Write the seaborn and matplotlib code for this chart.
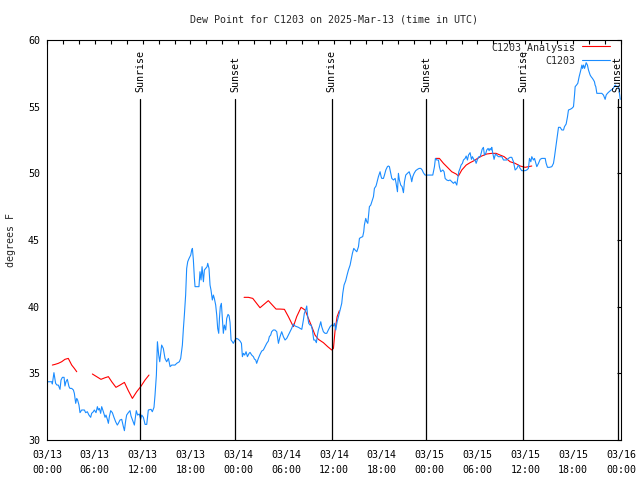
import pandas as pd
import matplotlib
matplotlib.use("Agg")
import matplotlib.pyplot as plt
import matplotlib.dates as mdates
import matplotlib.transforms as mtransforms
from matplotlib.lines import Line2D
import seaborn as sns

# ----------------------------
# DATA (hours after 2025-03-13 00:00 UTC, dew point in F)
# ----------------------------
START = "2025-03-13 00:00"

blue_hours = [
    0.08, 0.59, 0.67, 0.87, 1.08, 1.25, 1.42, 1.63, 1.76, 1.93,
    2.14, 2.25, 2.38, 2.55, 2.67, 2.76, 2.88, 3.1, 3.31, 3.43,
    3.6, 3.73, 3.84, 4.01, 4.14, 4.35, 4.69, 4.85, 5.06, 5.26,
    5.48, 5.6, 5.81, 5.94, 6.15, 6.32, 6.44, 6.57, 6.73, 6.86,
    7.07, 7.28, 7.4, 7.57, 7.7, 7.82, 7.99, 8.2, 8.4, 8.61,
    8.82, 8.95, 9.16, 9.37, 9.58, 9.71, 9.87, 9.99, 10.2, 10.41,
    10.54, 10.75, 10.96, 11.09, 11.2, 11.37, 11.58, 11.75, 11.88, 12.09,
    12.3, 12.51, 12.71, 13.05, 13.21, 13.42, 13.55, 13.72, 13.85, 14.01,
    14.14,
    14.38, 14.59, 14.8, 15.01, 15.23, 15.44, 15.65, 16.06, 16.27, 16.6,
    16.77, 16.98, 17.11, 17.23, 17.39, 17.52, 17.65, 17.82, 18.03, 18.15,
    18.24, 18.36, 18.49, 18.57, 18.86, 19.06, 19.19, 19.32, 19.45, 19.62,
    19.74, 19.91, 20.08, 20.16, 20.32, 20.45, 20.57, 20.74, 20.87, 20.99,
    21.16, 21.29, 21.41, 21.54, 21.63, 21.74, 21.87, 22.0, 22.12, 22.25,
    22.42, 22.54, 22.71, 22.84, 22.96, 23.09, 23.25, 23.37, 23.58, 23.79,
    24.01, 24.22, 24.39, 24.51, 24.64, 24.8, 24.97, 25.14, 25.35, 25.47,
    25.68, 25.89, 26.02, 26.18, 26.3, 26.51, 26.72, 26.93, 27.14, 27.35,
    27.56, 27.76, 27.89, 28.06, 28.18, 28.39, 28.6,
    28.82, 29.03, 29.23, 29.44, 29.65, 29.86, 30.07, 30.28, 30.49, 30.69,
    30.9, 31.11, 31.32, 31.54, 31.75, 31.96, 32.16, 32.28, 32.45, 32.58,
    32.7, 32.83, 33.0, 33.13, 33.29, 33.46, 33.62, 33.79, 33.92, 34.04,
    34.17, 34.34, 34.46, 34.67, 34.88, 35.09, 35.29, 35.51, 35.72, 35.93,
    36.05, 36.22, 36.39, 36.56, 36.76, 36.97, 37.1, 37.26, 37.47, 37.64,
    37.81, 38.02, 38.14, 38.31, 38.48, 38.65, 38.86, 39.07, 39.19, 39.4,
    39.6, 39.73, 39.81, 39.98, 40.11, 40.24, 40.32, 40.44, 40.61, 40.74,
    40.95, 41.07, 41.27, 41.36, 41.57, 41.78, 41.91, 41.99, 42.2, 42.33,
    42.5, 42.7, 42.82, 42.95,
    43.25, 43.46, 43.67, 43.79, 43.96, 44.08, 44.2, 44.37, 44.54, 44.71,
    44.84, 45.0, 45.21, 45.43, 45.63, 45.75, 45.88, 46.05, 46.25, 46.47,
    46.68, 46.89, 47.06, 47.21, 47.42, 48.39, 48.6, 48.72, 48.89, 49.1,
    49.22, 49.39, 49.65, 49.81, 49.94, 50.14, 50.35, 50.56, 50.77, 50.98,
    51.19, 51.4, 51.53, 51.65, 51.81, 51.94, 52.11, 52.24, 52.45, 52.58,
    52.74, 52.87, 53.07, 53.24, 53.36, 53.57, 53.7, 53.83, 54.0, 54.17,
    54.33, 54.46, 54.58, 54.74, 54.87, 55.04, 55.16, 55.33, 55.46, 55.58,
    55.71, 55.79, 55.92, 56.08, 56.25, 56.41, 56.62, 56.84, 57.05, 57.26,
    57.47,
    57.67, 57.88, 58.09, 58.3, 58.51, 58.72, 58.93, 59.14, 59.35, 59.55,
    59.76, 59.97, 60.18, 60.39, 60.52, 60.69, 60.81, 61.02, 61.15, 61.32,
    61.44, 61.65, 61.86, 62.07, 62.28, 62.49, 62.61, 62.78, 63.03, 63.32,
    63.53, 63.66, 63.83, 63.95, 64.16, 64.37, 64.58, 64.79, 64.91, 65.12,
    65.29, 65.41, 65.62, 65.83, 66.04, 66.17, 66.25, 66.42, 66.58, 66.75,
    66.96, 67.09, 67.17, 67.3, 67.42, 67.5, 67.63, 67.79, 67.92, 68.13,
    68.25, 68.42, 68.55, 68.67, 68.75, 68.84, 68.97, 69.26, 69.59, 69.8,
    70.01, 70.14, 70.3, 70.51, 70.76, 70.93, 71.1, 71.27, 71.48, 71.69,
    71.81, 71.9,
]
blue_dewpt = [
    34.37, 34.37, 34.2, 35.05, 34.25, 34.12, 34.12, 33.8, 34.5, 34.7,
    34.7, 34.05, 34.37, 34.55, 34.25, 34.0, 33.87, 33.87, 33.75, 33.5,
    32.75, 33.12, 33.0, 32.62, 32.05, 32.25, 32.25, 32.05, 32.12, 31.87,
    31.7, 32.0, 32.12, 32.25, 32.05, 32.5, 32.25, 32.37, 32.0, 32.5,
    32.12, 31.7, 31.87, 31.55, 31.25, 31.75, 32.2, 32.05, 31.7, 31.37,
    31.12, 31.25, 31.5, 31.55, 31.0, 30.7, 31.45, 31.87, 32.05, 32.2,
    31.8, 31.45, 31.12, 31.7, 32.2, 31.87, 31.95, 31.55, 31.87, 31.7,
    31.17, 31.17, 32.25, 32.3, 32.12, 32.45, 33.37, 34.87, 37.37, 36.37,
    35.87,
    37.12, 36.87, 36.12, 35.87, 36.12, 35.5, 35.62, 35.62, 35.75, 35.87,
    36.12, 37.12, 38.37, 39.37, 40.87, 42.87, 43.37, 43.62, 43.87, 44.25,
    44.37, 43.5, 42.12, 41.5, 41.5, 41.5, 42.62, 42.0, 43.0, 41.87,
    42.75, 42.87, 43.0, 43.25, 42.87, 41.62, 41.25, 40.5, 40.87, 40.62,
    40.12, 39.37, 38.37, 38.0, 39.12, 40.0, 40.25, 39.12, 38.0, 38.62,
    38.25, 39.12, 39.42, 39.32, 38.82, 37.5, 37.37, 37.25, 37.5, 37.62,
    37.55, 37.42, 37.25, 36.25, 36.5, 36.37, 36.62, 36.25, 36.5, 36.57,
    36.37, 36.25, 36.07, 36.0, 35.75, 36.12, 36.42, 36.67, 36.75, 37.0,
    37.25, 37.42, 37.75, 37.87, 38.12, 38.25, 38.25,
    38.12, 37.25, 37.75, 38.12, 37.75, 37.5, 37.62, 37.87, 38.12, 38.37,
    38.7, 38.55, 38.5, 38.45, 38.37, 38.3, 39.0, 39.5, 39.75, 40.05,
    39.25, 38.75, 38.62, 38.62, 38.25, 37.5, 37.5, 37.3, 37.87, 38.25,
    38.5, 38.87, 38.5, 38.12, 38.0, 38.0, 38.25, 38.5, 38.62, 38.55,
    38.75, 38.25, 38.87, 39.25, 39.75, 40.25, 41.0, 41.62, 41.95, 42.37,
    42.75, 43.12, 43.5, 44.0, 44.37, 44.25, 44.12, 44.5, 45.12, 45.2,
    45.25, 45.62, 46.12, 46.62, 46.37, 46.25, 46.75, 47.5, 47.62, 47.87,
    48.25, 48.87, 49.05, 49.25, 49.75, 50.12, 49.75, 49.62, 49.62, 49.87,
    50.25, 50.5, 50.55, 50.5,
    49.62, 49.5, 49.62, 49.25, 48.62, 50.0, 49.5, 49.12, 49.0, 48.55,
    49.37, 49.87, 50.0, 50.12, 49.75, 49.37, 49.75, 50.0, 50.2, 50.3,
    50.37, 50.37, 50.25, 50.05, 49.87, 49.87, 50.5, 51.12, 51.0, 51.0,
    50.5, 50.12, 50.25, 50.12, 49.62, 49.5, 49.45, 49.5, 49.37, 49.25,
    49.37, 49.12, 49.62, 50.12, 50.37, 50.62, 50.75, 51.0, 51.12, 51.3,
    51.0, 51.37, 51.55, 51.05, 51.25, 51.0, 51.0, 50.75, 51.05, 51.25,
    51.25, 51.5, 51.8, 51.95, 51.37, 51.5, 51.75, 51.87, 51.7, 51.87,
    51.75, 51.95, 51.5, 51.05, 51.45, 51.37, 51.25, 51.25, 51.25, 51.0,
    51.0,
    51.0, 51.12, 51.2, 51.2, 50.87, 50.25, 50.37, 50.62, 50.37, 50.2,
    50.2, 50.2, 50.25, 50.37, 51.12, 50.87, 51.25, 51.0, 51.12, 50.75,
    50.5, 50.75, 51.05, 51.12, 51.12, 51.12, 50.75, 50.45, 50.45, 50.5,
    50.75, 51.25, 52.0, 52.5, 53.45, 53.45, 53.25, 53.25, 53.5, 53.7,
    54.25, 54.75, 54.8, 54.87, 55.0, 55.87, 56.5, 56.62, 56.75, 57.25,
    57.75, 58.12, 57.87, 58.12, 57.87, 58.0, 58.3, 58.12, 57.75, 57.37,
    57.25, 57.12, 57.0, 56.87, 56.62, 56.5, 56.0, 56.0, 56.0, 55.87,
    55.55, 55.87, 56.0, 56.12, 56.25, 56.3, 56.45, 56.62, 56.5, 56.55,
    56.0, 55.55,
]

# analysis comes in separate pieces (gaps between them)
red_hours = [
    [0.67, 1.0, 1.42, 1.84, 2.25, 2.67, 3.1, 3.43, 3.73],
    [5.69, 6.23, 6.77, 7.28, 7.7, 8.12, 8.65, 9.16, 9.71, 10.2, 10.71,
     11.25, 11.75, 12.3, 12.79],
    [24.72, 25.26, 25.81, 26.72, 27.76, 28.73, 29.23, 29.78, 30.28, 30.9,
     31.32, 31.87, 32.37, 32.79, 33.21, 33.62, 34.04, 34.67, 35.21, 35.72,
     35.93, 36.14, 36.39, 36.67],
    [48.77, 49.22, 49.73, 50.23, 50.77, 51.32, 51.61, 52.03, 52.58, 53.07,
     53.57, 54.0, 54.53, 55.16, 55.79, 56.33, 56.84, 57.34, 58.09, 58.72,
     59.35, 59.97, 60.81],
]
red_dewpt = [
    [35.62, 35.67, 35.75, 35.87, 36.05, 36.12, 35.62, 35.37, 35.12],
    [34.95, 34.75, 34.55, 34.67, 34.75, 34.37, 33.95, 34.12, 34.32, 33.7,
     33.12, 33.62, 34.0, 34.5, 34.87],
    [40.7, 40.7, 40.62, 39.92, 40.45, 39.82, 39.82, 39.8, 39.25, 38.5,
     39.25, 39.95, 39.75, 39.12, 38.5, 37.87, 37.55, 37.3, 37.0, 36.75,
     36.87, 38.25, 39.25, 39.7],
    [51.12, 51.12, 50.75, 50.45, 50.12, 49.95, 49.8, 50.25, 50.62, 50.8,
     50.95, 51.12, 51.3, 51.45, 51.5, 51.5, 51.37, 51.25, 50.87, 50.75,
     50.55, 50.45, 50.55],
]

sun_times = ["2025-03-13 11:43", "2025-03-13 23:35", "2025-03-14 11:43",
             "2025-03-14 23:35", "2025-03-15 11:45", "2025-03-15 23:34"]
sun_labels = ["Sunrise", "Sunset", "Sunrise", "Sunset", "Sunrise", "Sunset"]

BLUE = "#1a8cff"
RED = "#ff0000"
LW = 0.8

# ----------------------------
# build frames
# ----------------------------
t0 = pd.Timestamp(START)
obs = pd.DataFrame({"time": t0 + pd.to_timedelta(blue_hours, unit="h"),
                    "dewpt": blue_dewpt})

rows = []
for i, (hh, vv) in enumerate(zip(red_hours, red_dewpt)):
    for h, v in zip(hh, vv):
        rows.append({"time": t0 + pd.Timedelta(hours=h), "dewpt": v, "seg": i})
ana = pd.DataFrame(rows)

# ----------------------------
# plot
# ----------------------------
sns.set_theme(style="white")
plt.rcParams["font.family"] = ["DejaVu Sans Mono"]
plt.rcParams["font.size"] = 7.2

fig = plt.figure(figsize=(6.4, 4.8), dpi=100)
ax = fig.add_axes([47 / 640, 40 / 480, 574 / 640, 400 / 480])

sns.lineplot(data=ana, x="time", y="dewpt", units="seg", estimator=None,
             color=RED, lw=LW, ax=ax, legend=False)
sns.lineplot(data=obs, x="time", y="dewpt", estimator=None,
             color=BLUE, lw=LW, ax=ax, legend=False)

trans = mtransforms.blended_transform_factory(ax.transData, ax.transAxes)
for ts, lab in zip(sun_times, sun_labels):
    x = mdates.date2num(pd.Timestamp(ts))
    ax.axvline(x, ymin=0, ymax=0.852, color="black", lw=0.9)
    ax.text(x, 0.87, lab, transform=trans, rotation=90, ha="center",
            va="bottom", fontsize=7.2, color="black")

ax.set_xlim(pd.Timestamp("2025-03-13"), pd.Timestamp("2025-03-16"))
ax.set_ylim(30, 60)
ax.set_yticks(range(30, 61, 5))
ax.xaxis.set_major_locator(mdates.HourLocator(byhour=[0, 6, 12, 18]))
ax.xaxis.set_minor_locator(mdates.HourLocator(interval=2))
ax.xaxis.set_major_formatter(mdates.DateFormatter("%m/%d\n%H:%M"))

ax.tick_params(axis="both", which="both", direction="in", top=True,
               right=True, length=3.2, width=0.8, colors="black",
               labelsize=7.2)
ax.tick_params(axis="x", which="major", pad=7)
ax.tick_params(axis="y", which="major", pad=5)
for lbl in ax.get_xticklabels():
    lbl.set_linespacing(1.6)

for sp in ax.spines.values():
    sp.set_color("black")
    sp.set_linewidth(0.8)

ax.set_xlabel("")
ax.set_ylabel("degrees F", fontsize=7.2, labelpad=9)
fig.text(334 / 640, 1 - 20 / 480,
         "Dew Point for C1203 on 2025-Mar-13 (time in UTC)",
         ha="center", va="center", fontsize=7.2)

handles = [Line2D([], [], color=RED, lw=LW),
           Line2D([], [], color=BLUE, lw=LW)]
ax.legend(handles, ["C1203_Analysis", "C1203"], loc="upper right",
          bbox_to_anchor=(0.981, 0.995), markerfirst=False, frameon=False,
          borderpad=0, borderaxespad=0, handlelength=2.8,
          handletextpad=0.7, labelspacing=0.3, fontsize=7.2)

fig.savefig("out.png", dpi=100)
